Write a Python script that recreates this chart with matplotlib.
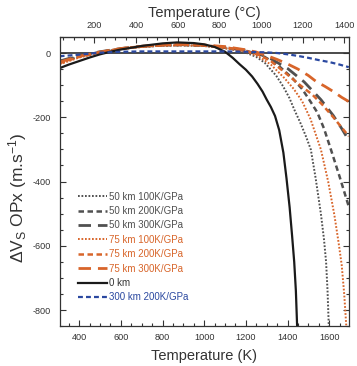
import matplotlib
matplotlib.use("Agg")
import matplotlib.pyplot as plt
from matplotlib.ticker import MultipleLocator, FixedLocator

plt.rcParams['font.family'] = ['Liberation Sans', 'DejaVu Sans']
plt.rcParams['mathtext.fontset'] = 'custom'
plt.rcParams['mathtext.rm'] = 'Liberation Sans'
plt.rcParams['mathtext.it'] = 'Liberation Sans'
plt.rcParams['axes.unicode_minus'] = False

# ---- data (Temperature in K, dVs in m/s) ----
T_0km = [306, 350, 400, 450, 500, 550, 600, 700, 800, 870, 950, 1000, 1050, 1100, 1137, 1170, 1200, 1230, 1256,
         1280, 1300, 1320, 1340, 1360, 1380, 1395, 1410, 1422, 1432, 1440, 1446]
V_0km = [-47, -36, -25, -14, -4, 4, 11, 22, 30, 33, 31, 27, 19, 4, -15, -35, -52, -73, -96,
         -120, -145, -168, -196, -240, -310, -390, -480, -570, -650, -740, -850]

T_50_100 = [306, 400, 500, 600, 700, 800, 900, 1000, 1100, 1150, 1200, 1250, 1290, 1345, 1380, 1409, 1433,
            1460, 1490, 1512, 1535, 1560, 1575, 1585, 1592, 1598]
V_50_100 = [-30, -11, 3, 13, 19, 23, 24, 22, 15, 9, 1, -12, -30, -70, -105, -140, -177,
            -215, -262, -301, -390, -500, -580, -650, -740, -850]

T_50_200 = [306, 400, 500, 600, 700, 800, 900, 1000, 1100, 1200, 1280, 1351, 1423, 1470, 1504, 1543, 1575,
            1608, 1650, 1694]
V_50_200 = [-27, -9, 3, 13, 20, 24, 25, 23, 17, 7, -8, -36, -78, -112, -145, -185, -235,
            -300, -385, -478]

T_50_300 = [306, 400, 500, 600, 700, 800, 900, 1000, 1100, 1200, 1260, 1320, 1400, 1480, 1560, 1620, 1660, 1694]
V_50_300 = [-25, -8, 4, 14, 21, 25, 26, 24, 18, 8, -2, -18, -48, -90, -145, -195, -235, -272]

T_75_100 = [306, 400, 500, 600, 700, 800, 900, 1000, 1100, 1200, 1260, 1320, 1385, 1430, 1470, 1510, 1560,
            1595, 1625, 1645, 1660, 1672, 1682]
V_75_100 = [-35, -14, 1, 12, 19, 23, 24, 22, 15, 4, -10, -36, -78, -112, -150, -205, -300,
            -400, -505, -590, -660, -750, -850]

T_75_200 = [306, 400, 500, 600, 700, 800, 900, 1000, 1100, 1200, 1260, 1320, 1390, 1460, 1520, 1566, 1620, 1660, 1694]
V_75_200 = [-32, -12, 2, 14, 21, 25, 26, 24, 18, 7, -5, -25, -62, -100, -130, -160, -200, -232, -259]

T_75_300 = [306, 400, 500, 600, 700, 800, 900, 1000, 1100, 1200, 1250, 1300, 1350, 1400, 1450, 1500, 1536,
            1580, 1620, 1660, 1694]
V_75_300 = [-28, -10, 3, 14, 21, 25, 27, 25, 20, 10, 3, -8, -20, -34, -50, -70, -88,
            -104, -120, -138, -151]

T_300_200 = [306, 400, 500, 600, 700, 800, 900, 1000, 1100, 1200, 1300, 1350, 1400, 1450, 1500, 1550, 1600, 1650, 1694]
V_300_200 = [-10, -5, 1, 4, 5, 5, 5, 5, 5, 4, 2, 0, -4, -9, -15, -22, -28, -36, -44]

celsius_ticks = [200, 400, 600, 800, 1000, 1200, 1400]

labels = ["50 km 100K/GPa", "50 km 200K/GPa", "50 km 300K/GPa",
          "75 km 100K/GPa", "75 km 200K/GPa", "75 km 300K/GPa",
          "0 km", "300 km 200K/GPa"]

GRAY = '#505050'
ORANGE = '#d8652a'
BLUE = '#2a48a0'
BLACK = '#1a1a1a'
TXT = '#333333'

fig = plt.figure(figsize=(3.57, 3.66), dpi=100)
ax = fig.add_axes([0.167, 0.109, 0.810, 0.790])

ax.axhline(0, color=BLACK, lw=1.1, zorder=1)

series = [
    (T_50_100, V_50_100, GRAY, 1.4, (0, (0.9, 0.9))),
    (T_50_200, V_50_200, GRAY, 1.8, (0, (2.2, 1.4))),
    (T_50_300, V_50_300, GRAY, 2.0, (0, (4.5, 2.5))),
    (T_75_100, V_75_100, ORANGE, 1.4, (0, (0.9, 0.9))),
    (T_75_200, V_75_200, ORANGE, 1.8, (0, (2.2, 1.4))),
    (T_75_300, V_75_300, ORANGE, 2.0, (0, (4.5, 2.5))),
    (T_0km, V_0km, BLACK, 1.6, '-'),
    (T_300_200, V_300_200, BLUE, 1.6, (0, (2.2, 1.4))),
]
handles = []
for (T, V, c, lw, ls), lab in zip(series, labels):
    h, = ax.plot(T, V, color=c, lw=lw, ls=ls, label=lab, zorder=2)
    handles.append(h)

ax.set_xlim(306, 1694)
ax.set_ylim(-850, 50)

ax.xaxis.set_major_locator(MultipleLocator(200))
ax.xaxis.set_minor_locator(MultipleLocator(50))
ax.yaxis.set_major_locator(MultipleLocator(200))
ax.yaxis.set_minor_locator(MultipleLocator(50))
ax.tick_params(which='both', direction='in', right=True, top=False, colors=TXT,
               labelsize=6.6, width=0.8)
ax.tick_params(which='major', length=4)
ax.tick_params(which='minor', length=2)
ax.tick_params(axis='y', pad=6.5)
ax.tick_params(axis='x', pad=5)
for s in ax.spines.values():
    s.set_color(TXT)
    s.set_linewidth(0.9)

ax.set_xlabel('Temperature (K)', fontsize=10.5, color=TXT, labelpad=5)
ax.set_ylabel(r'$\Delta$V$_\mathregular{S}$ OPx (m.s$^\mathregular{-1}$)', fontsize=12.5,
              color=TXT)
ax.yaxis.set_label_coords(-0.105, 0.445)

sec = ax.secondary_xaxis('top', functions=(lambda k: k - 273.15, lambda c: c + 273.15))
sec.xaxis.set_major_locator(FixedLocator(celsius_ticks))
sec.xaxis.set_minor_locator(MultipleLocator(50))
sec.tick_params(which='both', direction='in', colors=TXT, labelsize=6.6, width=0.8, pad=5)
sec.tick_params(which='major', length=4)
sec.tick_params(which='minor', length=2)
sec.set_xlabel('Temperature (\u00b0C)', fontsize=10.5, color=TXT, labelpad=3)
sec.spines['top'].set_color(TXT)

leg = ax.legend(handles=handles, loc='upper left', bbox_to_anchor=(0.062, 0.465),
                frameon=False, fontsize=7, handlelength=3.0, handletextpad=0.2,
                labelspacing=0.45, borderpad=0, borderaxespad=0)
for t, (T, V, c, lw, ls) in zip(leg.get_texts(), series):
    t.set_color(c if c != BLACK else TXT)

fig.savefig('out.png', dpi=100)
